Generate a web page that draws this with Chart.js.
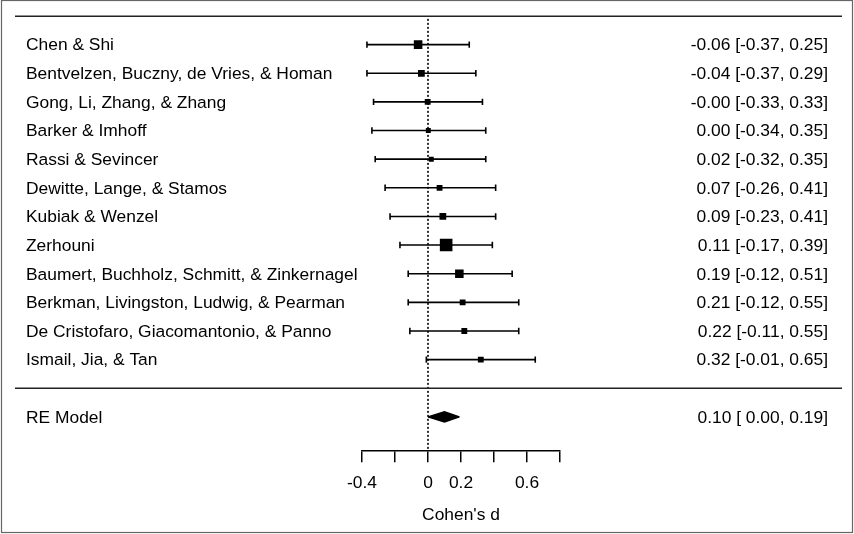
<!DOCTYPE html>
<html>
<head>
<meta charset="utf-8">
<title>Forest plot</title>
<script src="https://cdn.jsdelivr.net/npm/chart.js@4"></script>
<style>
  body { margin: 0; background: #fff; }
  #wrap { width: 854px; height: 534px; position: relative; }
</style>
</head>
<body>
<div id="wrap"><canvas id="forest"></canvas></div>
<script>
// study data
const studies = [
    "Chen & Shi",
    "Bentvelzen, Buczny, de Vries, & Homan",
    "Gong, Li, Zhang, & Zhang",
    "Barker & Imhoff",
    "Rassi & Sevincer",
    "Dewitte, Lange, & Stamos",
    "Kubiak & Wenzel",
    "Zerhouni",
    "Baumert, Buchholz, Schmitt, & Zinkernagel",
    "Berkman, Livingston, Ludwig, & Pearman",
    "De Cristofaro, Giacomantonio, & Panno",
    "Ismail, Jia, & Tan"
];
const estimates = [-0.06, -0.04, -0.002, 0.002, 0.02, 0.07, 0.09, 0.11, 0.19, 0.21, 0.22, 0.32];
const lowerCI = [-0.37, -0.37, -0.33, -0.34, -0.32, -0.26, -0.23, -0.17, -0.12, -0.12, -0.11, -0.01];
const upperCI = [0.25, 0.29, 0.33, 0.35, 0.35, 0.41, 0.41, 0.39, 0.51, 0.55, 0.55, 0.65];
const weights = [9.5, 7.5, 6.5, 5.5, 5.5, 6.5, 7.5, 14, 9.5, 6.5, 6.5, 6.5];

const modelLabel = "RE Model";
const modelEstimate = [0.10];
const modelLower = [0.00];
const modelUpper = [0.19];

const tickValues = [-0.4, -0.2, 0, 0.2, 0.4, 0.6, 0.8];
const tickLabels = ["-0.4", "", "0", "0.2", "", "0.6", ""];
const axisTitle = "Cohen's d";

// rows: studies 1..12, separator 13, model 14
const studyRows = studies.map((s, i) => i + 1);
const sepRow = studies.length + 1;
const modelRow = studies.length + 2;
const diamondHalf = 0.18;

const FONT = '"Liberation Sans", Arial, Helvetica, sans-serif';
const FSIZE = 17.4;
Chart.defaults.font.family = FONT;
Chart.defaults.font.size = FSIZE;
Chart.defaults.color = "#000";

function fmt(v) {
    return v.toFixed(2);
}
function ciText(est, lo, hi) {
    return fmt(est) + " [" + fmt(lo).padStart(5, " ") + ", " + fmt(hi) + "]";
}

// whiskers: one segment per study, separated by gaps
const whiskerData = [];
studies.forEach((s, i) => {
    whiskerData.push({ x: lowerCI[i], y: studyRows[i] });
    whiskerData.push({ x: upperCI[i], y: studyRows[i] });
    whiskerData.push({ x: NaN, y: NaN });
});

const forestDecor = {
    id: "forestDecor",
    beforeDraw(chart) {
        const ctx = chart.ctx;
        ctx.save();
        ctx.fillStyle = "#fff";
        ctx.fillRect(0, 0, chart.width, chart.height);
        ctx.restore();
    },
    afterDraw(chart) {
        const ctx = chart.ctx;
        const y = chart.scales.y;
        ctx.save();

        // horizontal rules
        ctx.strokeStyle = "#222";
        ctx.lineWidth = 1.5;
        [0, sepRow].forEach(r => {
            const py = Math.round(y.getPixelForValue(r)) + 0.25;
            ctx.beginPath();
            ctx.moveTo(15, py);
            ctx.lineTo(842, py);
            ctx.stroke();
        });

        // labels
        ctx.font = FSIZE + "px " + FONT;
        ctx.fillStyle = "#000";
        ctx.textBaseline = "middle";
        studies.forEach((s, i) => {
            const py = y.getPixelForValue(studyRows[i]) + 1;
            ctx.textAlign = "left";
            ctx.fillText(s, 26, py);
            ctx.textAlign = "right";
            ctx.fillText(ciText(estimates[i], lowerCI[i], upperCI[i]), 828, py);
        });
        const my = y.getPixelForValue(modelRow) + 1;
        ctx.textAlign = "left";
        ctx.fillText(modelLabel, 26, my);
        ctx.textAlign = "right";
        ctx.fillText(ciText(modelEstimate[0], modelLower[0], modelUpper[0]), 828, my);

        // outer frame
        ctx.strokeStyle = "#666";
        ctx.lineWidth = 1.2;
        ctx.strokeRect(1.5, 0.5, 851, 532);
        ctx.restore();
    }
};

new Chart("forest", {
    type: "scatter",
    data: {
        datasets: [
            {
                // study boxes, size by weight
                data: estimates.map((e, i) => ({ x: e, y: studyRows[i] })),
                pointStyle: "rect",
                pointRadius: weights.map(w => (w * 0.9) / Math.SQRT2),
                pointHoverRadius: weights.map(w => (w * 0.9) / Math.SQRT2),
                backgroundColor: "#000",
                borderColor: "#000",
                borderWidth: 0
            },
            {
                // diamond, upper half
                type: "line",
                data: [
                    { x: modelLower[0], y: modelRow },
                    { x: modelEstimate[0], y: modelRow - diamondHalf },
                    { x: modelUpper[0], y: modelRow }
                ],
                borderColor: "#000",
                borderWidth: 1.5,
                pointRadius: 0,
                tension: 0,
                fill: false
            },
            {
                // diamond, lower half
                type: "line",
                data: [
                    { x: modelLower[0], y: modelRow },
                    { x: modelEstimate[0], y: modelRow + diamondHalf },
                    { x: modelUpper[0], y: modelRow }
                ],
                borderColor: "#000",
                backgroundColor: "#000",
                borderWidth: 1.5,
                pointRadius: 0,
                tension: 0,
                fill: "-1"
            },
            {
                // confidence intervals with end caps
                data: whiskerData,
                showLine: true,
                spanGaps: false,
                borderColor: "#000",
                borderWidth: 1.6,
                pointStyle: "line",
                pointRotation: 90,
                pointRadius: 3.2,
                pointHoverRadius: 3.2,
                pointBorderWidth: 1.6,
                pointBorderColor: "#000"
            },
            {
                // reference line at zero
                type: "line",
                data: [{ x: 0, y: 0.1 }, { x: 0, y: 15.2 }],
                borderColor: "#000",
                borderWidth: 1.6,
                borderDash: [2, 2],
                pointRadius: 0,
                fill: false
            }
        ]
    },
    options: {
        responsive: true,
        maintainAspectRatio: false,
        animation: false,
        events: [],
        layout: { padding: { left: 362, right: 294, top: 16, bottom: 8 } },
        plugins: {
            legend: { display: false },
            tooltip: { enabled: false }
        },
        scales: {
            x: {
                type: "linear",
                min: -0.4,
                max: 0.8,
                afterBuildTicks: axis => {
                    axis.ticks = tickValues.map(v => ({ value: v }));
                },
                ticks: {
                    autoSkip: false,
                    maxRotation: 0,
                    padding: 11,
                    color: "#000",
                    font: { size: FSIZE },
                    callback: (value, index) => tickLabels[index]
                },
                grid: {
                    drawOnChartArea: false,
                    drawTicks: true,
                    tickLength: 11,
                    color: "#000",
                    lineWidth: 1.5
                },
                border: { display: true, color: "#000", width: 1.5 },
                title: {
                    display: true,
                    text: axisTitle,
                    color: "#000",
                    font: { size: FSIZE },
                    padding: { top: 0, bottom: 0 }
                }
            },
            y: {
                type: "linear",
                display: false,
                reverse: true,
                min: 0,
                max: 15.2
            }
        }
    },
    plugins: [forestDecor]
});
</script>
</body>
</html>
